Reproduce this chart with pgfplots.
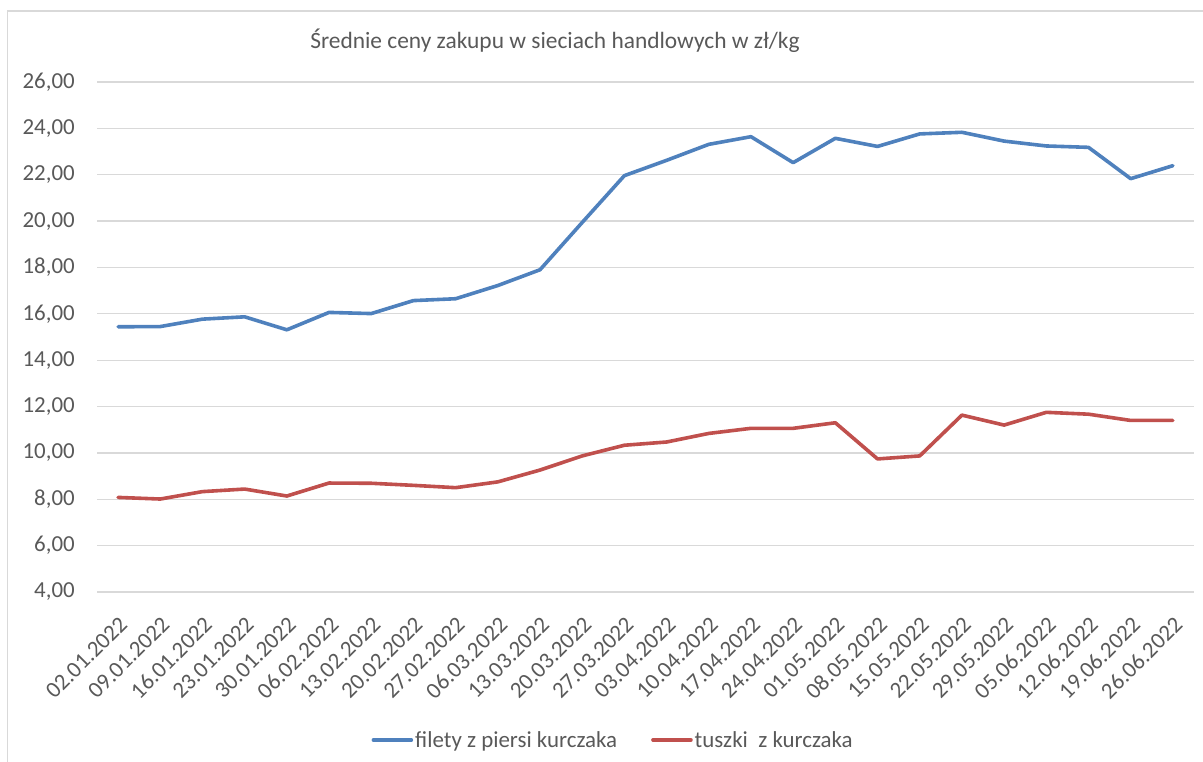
\documentclass[border=0pt]{standalone}
\usepackage{pgfplots}
\pgfplotsset{compat=1.18}
\usepackage{fontspec}
\setmainfont{Carlito}
\definecolor{blueS}{HTML}{4F81BD}
\definecolor{redS}{HTML}{C0504D}
\definecolor{txt}{HTML}{595959}
\definecolor{gridc}{HTML}{D9D9D9}
\begin{document}
\begin{tikzpicture}[x=1bp,y=1bp]
\useasboundingbox (0,0) rectangle (1203,762);
\draw[gridc, line width=1.2bp] (7.5,0) -- (7.5,751) -- (1203,751);
\node[text=txt, font=\fontsize{23.5}{27}\selectfont] at (555,721) {Średnie ceny zakupu w sieciach handlowych w zł/kg};
\begin{axis}[
  at={(97bp,170bp)}, anchor=south west,
  scale only axis, width=1097bp, height=510bp,
  xmin=-0.5, xmax=25.5, ymin=4, ymax=26,
  ytick={4,6,...,26},
  xtick={0,...,25},
  xticklabels={02.01.2022,09.01.2022,16.01.2022,23.01.2022,30.01.2022,06.02.2022,13.02.2022,20.02.2022,27.02.2022,06.03.2022,13.03.2022,20.03.2022,27.03.2022,03.04.2022,10.04.2022,17.04.2022,24.04.2022,01.05.2022,08.05.2022,15.05.2022,22.05.2022,29.05.2022,05.06.2022,12.06.2022,19.06.2022,26.06.2022},
  axis line style={draw=none},
  major tick length=0pt,
  ymajorgrids, grid style={gridc, line width=1.2bp},
  /pgf/number format/assume math mode=true,
  yticklabel style={/pgf/number format/fixed, /pgf/number format/fixed zerofill, /pgf/number format/precision=2, /pgf/number format/use comma, inner sep=0pt, xshift=-22bp},
  ticklabel style={font=\fontsize{23}{27}\selectfont, text=txt},
  xticklabel style={rotate=45, anchor=north east, inner sep=0pt},
  xticklabel shift=23bp,
  legend style={at={(0.4705,-0.29)}, anchor=center, draw=none, fill=none, legend columns=2,
    font=\fontsize{23}{27}\selectfont, text=txt,
    nodes={inner sep=2bp},
    /tikz/every even column/.append style={column sep=32bp}},
  legend image code/.code={\draw[#1] (0bp,0bp) -- (38bp,0bp);},
]
\addplot[blueS, line width=3.6bp, line join=round, line cap=round] coordinates {
(0,15.44) (1,15.45) (2,15.77) (3,15.87) (4,15.31) (5,16.06) (6,16.01) (7,16.57) (8,16.65) (9,17.22) (10,17.90) (11,19.94) (12,21.96) (13,22.62) (14,23.31) (15,23.64) (16,22.52) (17,23.57) (18,23.22) (19,23.76) (20,23.83) (21,23.45) (22,23.24) (23,23.18) (24,21.83) (25,22.39)};
\addlegendentry{filety z piersi kurczaka}
\addplot[redS, line width=3.6bp, line join=round, line cap=round] coordinates {
(0,8.08) (1,8.01) (2,8.33) (3,8.44) (4,8.14) (5,8.70) (6,8.69) (7,8.60) (8,8.50) (9,8.75) (10,9.26) (11,9.87) (12,10.33) (13,10.47) (14,10.84) (15,11.06) (16,11.06) (17,11.30) (18,9.74) (19,9.87) (20,11.63) (21,11.20) (22,11.75) (23,11.67) (24,11.40) (25,11.40)};
\addlegendentry{tuszki\ \ z kurczaka}
\end{axis}
\end{tikzpicture}
\end{document}
